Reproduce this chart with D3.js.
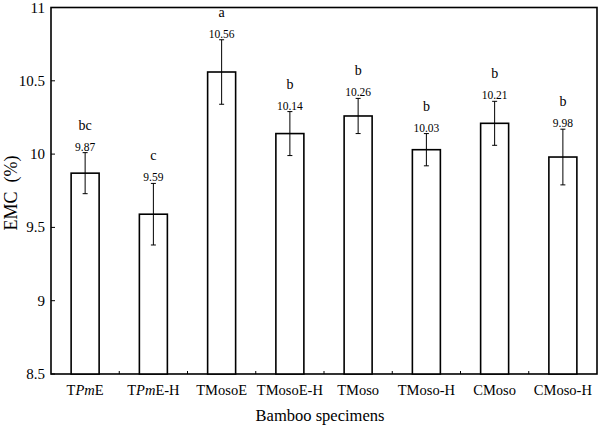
<!DOCTYPE html>
<html>
<head>
<meta charset="utf-8">
<script src="https://cdn.jsdelivr.net/npm/d3@7"></script>
<style>
  body { margin: 0; background: #fff; }
  svg text { font-family: "Liberation Serif", "Times New Roman", serif; fill: #000; }
</style>
</head>
<body>
<svg id="chart" width="602" height="426"></svg>
<script>
// data
var categories = ["TPmE", "TPmE-H", "TMosoE", "TMosoE-H", "TMoso", "TMoso-H", "CMoso", "CMoso-H"];
var means = [9.87, 9.59, 10.56, 10.14, 10.26, 10.03, 10.21, 9.98];
var errors = [0.14, 0.21, 0.22, 0.15, 0.12, 0.11, 0.15, 0.19];
var letters = ["bc", "c", "a", "b", "b", "b", "b", "b"];
var yTicks = [8.5, 9, 9.5, 10, 10.5, 11];

var svg = d3.select("#chart");
var pLeft = 51, pRight = 597, pTop = 7.5, pBottom = 374;

var x = d3.scaleBand().domain(categories).range([pLeft, pRight]).paddingInner(0).paddingOuter(0);
var y = d3.scaleLinear().domain([8.5, 11]).range([pBottom, pTop]);
var barW = 28;

// frame
svg.append("rect")
  .attr("x", pLeft).attr("y", pTop)
  .attr("width", pRight - pLeft).attr("height", pBottom - pTop)
  .attr("fill", "none").attr("stroke", "#000").attr("stroke-width", 1.6);

// y ticks + labels
yTicks.forEach(function(t){
  svg.append("line")
    .attr("x1", pLeft).attr("x2", pLeft + 4)
    .attr("y1", y(t)).attr("y2", y(t))
    .attr("stroke", "#000").attr("stroke-width", 1);
  svg.append("text")
    .attr("x", pLeft - 6).attr("y", y(t) + 5)
    .attr("text-anchor", "end")
    .attr("fill", "#000")
    .style("font-size", "15px")
    .text(t);
});

// x ticks between categories
for (let i = 1; i < categories.length; i++){
  var bx = x(categories[i]);
  svg.append("line")
    .attr("x1", bx).attr("x2", bx)
    .attr("y1", pBottom).attr("y2", pBottom - 3)
    .attr("stroke", "#000").attr("stroke-width", 1);
}

// bars
categories.forEach(function(c, i){
  var cx = x(c) + x.bandwidth() / 2;
  svg.append("rect")
    .attr("x", cx - barW / 2).attr("y", y(means[i]))
    .attr("width", barW).attr("height", y(8.5) - y(means[i]))
    .attr("fill", "#fff").attr("stroke", "#000").attr("stroke-width", 1.6);

  var hi = y(means[i] + errors[i]), lo = y(means[i] - errors[i]);
  svg.append("line")
    .attr("x1", cx).attr("x2", cx).attr("y1", hi).attr("y2", lo)
    .attr("stroke", "#000").attr("stroke-width", 1);
  [hi, lo].forEach(function(yy){
    svg.append("line")
      .attr("x1", cx - 2.5).attr("x2", cx + 2.5).attr("y1", yy).attr("y2", yy)
      .attr("stroke", "#000").attr("stroke-width", 1);
  });

  svg.append("text")
    .attr("x", cx).attr("y", hi - 2)
    .attr("text-anchor", "middle")
    .attr("fill", "#000")
    .style("font-size", "11.5px")
    .text(means[i].toFixed(2));
  svg.append("text")
    .attr("x", cx).attr("y", hi - 23)
    .attr("text-anchor", "middle")
    .attr("fill", "#000")
    .style("font-size", "14px")
    .text(letters[i]);

  // category label, "Pm" in italics
  var lab = svg.append("text")
    .attr("x", cx).attr("y", pBottom + 21)
    .attr("text-anchor", "middle")
    .attr("fill", "#000")
    .style("font-size", "14.5px");
  var m = c.match(/^T(Pm)(.*)$/);
  if (m) {
    lab.append("tspan").text("T");
    lab.append("tspan").style("font-style", "italic").text(m[1]);
    lab.append("tspan").text(m[2]);
  } else {
    lab.text(c);
  }
});

// axis titles
svg.append("text")
  .attr("x", (pLeft + pRight) / 2 - 4).attr("y", 421)
  .attr("text-anchor", "middle")
  .attr("fill", "#000")
  .style("font-size", "16.5px")
  .text("Bamboo specimens");

svg.append("text")
  .attr("transform", "translate(17,193) rotate(-90)")
  .attr("text-anchor", "middle")
  .attr("fill", "#000")
  .style("font-size", "18px")
  .style("white-space", "pre")
  .text("EMC  (%)");
</script>
</body>
</html>
